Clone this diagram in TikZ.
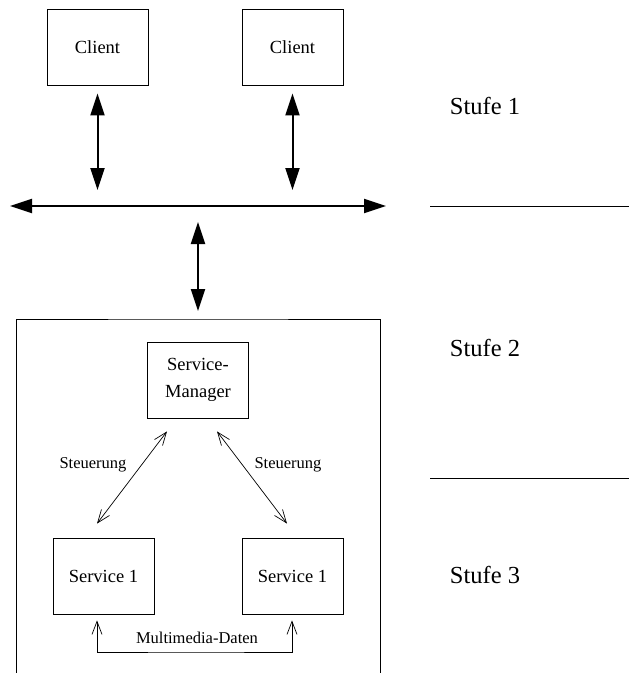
\documentclass[tikz,border=0pt]{standalone}
\usepackage{fontspec}
\setmainfont{Liberation Serif}
\usetikzlibrary{arrows.meta, positioning}

\begin{document}
\begin{tikzpicture}[x=1pt, y=-1pt,
    box/.style={rectangle, draw, line width=0.8pt, minimum width=101pt, minimum height=76pt, align=center, font=\fontsize{18.5}{27}\selectfont},
    bigarrow/.style={{Triangle[length=22pt,width=14pt]}-{Triangle[length=22pt,width=14pt]}, line width=2pt},
    thinarrow/.style={{Straight Barb[length=13pt,width=10pt]}-{Straight Barb[length=13pt,width=10pt]}, line width=0.7pt},
    small/.style={font=\fontsize{16.5}{20}\selectfont},
    level/.style={font=\fontsize{24.5}{28}\selectfont}]

    \useasboundingbox (0,0) rectangle (629,673);

    \node[box] (client1) at (97.5,47) {Client};
    \node[box] (client2) at (292.5,47) {Client};
    \coordinate (busL) at (10,206);
    \coordinate (busR) at (386,206);
    \coordinate (top) at (198,319);

    \draw[bigarrow] (busL) -- (busR);
    \draw[bigarrow, shorten <=8pt, shorten >=16pt] (client1.south) -- (client1.south |- busL);
    \draw[bigarrow, shorten <=8pt, shorten >=16pt] (client2.south) -- (client2.south |- busL);
    \draw[bigarrow, shorten <=16pt, shorten >=8pt] (top |- busL) -- (top);

    \draw[line width=0.8pt] (16,673) |- (top) -| (380,673);

    \node[box] (manager) at (198,380) {Service-\\Manager};
    \node[box] (service1) at (103.5,576) {Service 1};
    \node[box] (service2) at (292.5,576) {Service 1};

    \draw[thinarrow] ([xshift=-31pt,yshift=-13pt]manager.south) -- ([xshift=-6.5pt,yshift=14pt]service1.north);
    \draw[thinarrow] ([xshift=19pt,yshift=-13pt]manager.south) -- ([xshift=-5.5pt,yshift=14pt]service2.north);
    \node[small] (ctrlleft) at (93,465) {Steuerung};
    \node[small] (ctrlright) at (288,465) {Steuerung};

    \coordinate (mdata) at (197,652);
    \draw[thinarrow] ([xshift=-6.5pt,yshift=-6pt]service1.south) |- (mdata) -| ([xshift=-0.5pt,yshift=-6pt]service2.south);
    \node[small] (mdlabel) at (197,638) {Multimedia-Daten};

    \node[level] (stufe1) at (485,106) {Stufe 1};
    \node[level] (stufe2) at (485,348) {Stufe 2};
    \node[level] (stufe3) at (485,575) {Stufe 3};
    \draw[line width=0.8pt] (430,206) -- (629,206);
    \draw[line width=0.8pt] (430,478) -- (629,478);
\end{tikzpicture}
\end{document}
